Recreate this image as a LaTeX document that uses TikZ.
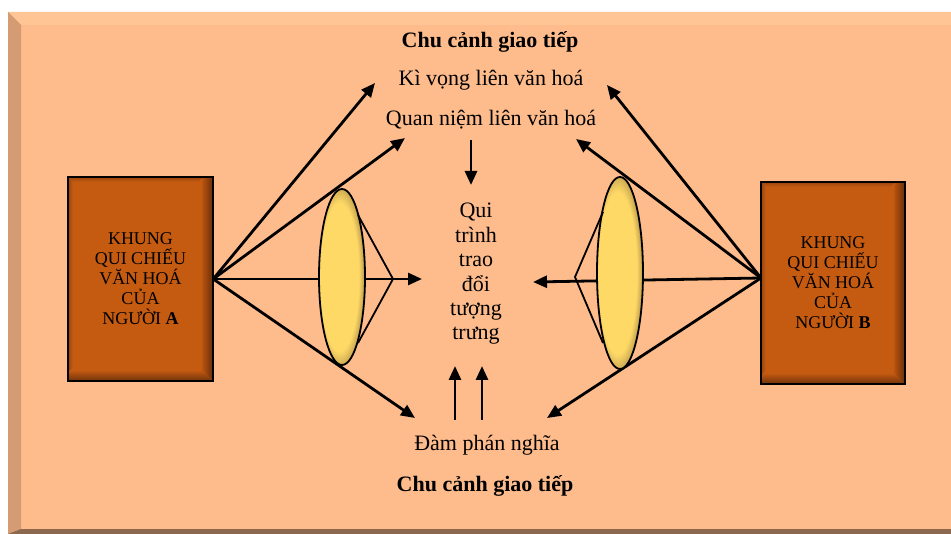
\documentclass[tikz,border=0pt]{standalone}
\usepackage{fontspec}
\setmainfont{Liberation Serif}
\usetikzlibrary{arrows.meta,shapes.geometric}
\definecolor{panel}{RGB}{254,188,140}
\definecolor{panelTop}{RGB}{255,197,149}
\definecolor{panelLeft}{RGB}{213,155,115}
\definecolor{panelBot}{RGB}{139,104,78}
\definecolor{boxC}{RGB}{197,90,17}
\definecolor{boxD}{RGB}{110,50,10}
\definecolor{lensY}{RGB}{255,217,102}
\definecolor{lensD}{RGB}{150,120,62}
\pgfdeclareradialshading{lensshade}{\pgfpoint{-5bp}{0bp}}{color(0bp)=(lensY); color(21bp)=(lensY); color(30bp)=(lensD); color(50bp)=(lensD)}
\tikzset{
  frame/.style={fill=boxC, inner sep=0pt,
    align=center, font=\fontsize{18}{20}\selectfont,
    path picture={
      \foreach \i [evaluate=\i as \j using \i+1, evaluate=\i as \p using int(100-8.5*\i)] in {0,...,10} {
        \fill[boxD!\p!boxC] ([xshift=-\j pt]path picture bounding box.north east) rectangle ([xshift=-\i pt]path picture bounding box.south east);
      }
      \foreach \i [evaluate=\i as \j using \i+1, evaluate=\i as \p using int(90-9*\i)] in {0,...,9} {
        \fill[boxD!\p!boxC] ([yshift=\j pt,xshift=-\i pt]path picture bounding box.south west) rectangle ([yshift=\i pt,xshift=-\i pt]path picture bounding box.south east);
      }
      \foreach \i [evaluate=\i as \j using \i+1, evaluate=\i as \p using int(50-10*\i)] in {0,...,4} {
        \fill[boxD!\p!boxC] ([yshift=-\i pt,xshift=\i pt]path picture bounding box.north west) rectangle ([yshift=-\j pt,xshift=-\i pt-10pt]path picture bounding box.north east);
        \fill[boxD!\p!boxC] ([xshift=\i pt,yshift=-\i pt]path picture bounding box.north west) rectangle ([xshift=\j pt,yshift=\i pt+9pt]path picture bounding box.south west);
      }
    }},
  frameline/.style={draw=black, line width=2.2pt},
  lens/.style={ellipse, draw=black, line width=1.8pt, shading=lensshade, inner sep=0pt},
  midtxt/.style={font=\fontsize{22}{24.4}\selectfont, align=center, inner sep=0pt},
  arr/.style={line width=2.8pt, -{Triangle[length=14pt,width=12pt]}},
  thinl/.style={line width=1.8pt, line join=miter},
}
\begin{document}
\begin{tikzpicture}[x=1pt,y=-1pt]
\useasboundingbox (0,0) rectangle (951,534);
% background panel
\fill[white] (0,0) rectangle (951,534);
\fill[panel] (8,12) rectangle (951,534);
\fill[panelTop] (8,12) -- (951,12) -- (951,25) -- (21,25) -- cycle;
\fill[panelLeft] (8,12) -- (21,25) -- (21,529) -- (8,534) -- cycle;
\fill[panelBot] (8,534) -- (21,529) -- (951,529) -- (951,534) -- cycle;

% frames
\node[frame, minimum width=145pt, minimum height=204pt] (A) at (140.5,279)
  {KHUNG\\QUI CHIẾU\\VĂN HOÁ\\CỦA\\NGƯỜI \textbf{A}};
\draw[frameline] (A.north west) rectangle (A.south east);
\node[frame, minimum width=144pt, minimum height=202pt] (B) at (833,283)
  {KHUNG\\QUI CHIẾU\\VĂN HOÁ\\CỦA\\NGƯỜI \textbf{B}};
\draw[frameline] (B.north west) rectangle (B.south east);

% texts
\node[midtxt] (ctx1) at (490,42) {\textbf{Chu cảnh giao tiếp}};
\node[midtxt] (kv) at (491,80) {Kì vọng liên văn hoá};
\node[midtxt] (qn) at (491,120) {Quan niệm liên văn hoá};
\node[midtxt] (qt) at (476,274) {Qui\\trình\\trao\\đổi\\tượng\\trưng};
\node[midtxt] (dp) at (487,445) {Đàm phán nghĩa};
\node[midtxt] (ctx2) at (485,486) {\textbf{Chu cảnh giao tiếp}};

% connector end points
\coordinate (Ao) at (A.east);
\coordinate (Bo) at (761,278);
\coordinate (kvL) at (375,83);
\coordinate (kvR) at (607,85);
\coordinate (qnL) at (405,138);
\coordinate (qnR) at (576,139);
\coordinate (qtL) at (422,279);
\coordinate (qtR) at (533,282);
\coordinate (dpL) at (415,418);
\coordinate (dpR) at (547,418);
\coordinate (dn1) at (471,140);
\coordinate (dn2) at (471,185);
\coordinate (up1a) at (455,420);
\coordinate (up1b) at (455,366);
\coordinate (up2a) at (482,420);
\coordinate (up2b) at (482,366);

% arrows
\draw[arr] (Ao) -- (kvL);
\draw[arr] (Ao) -- (qnL);
\draw[arr] (Ao) -- (qtL);
\draw[arr] (Ao) -- (dpL);
\draw[arr] (Bo) -- (kvR);
\draw[arr] (Bo) -- (qnR);
\draw[arr] (Bo) -- (qtR);
\draw[arr] (Bo) -- (dpR);
\draw[arr] (dn1) -- (dn2);
\draw[arr] (up1a) -- (up1b);
\draw[arr] (up2a) -- (up2b);

% lenses
\node[lens, minimum width=46pt, minimum height=176pt] (LA) at (342,277) {};
\node[lens, minimum width=46pt, minimum height=192pt] (LB) at (620,273) {};

% lens cones
\coordinate (fa) at (393,279);
\coordinate (fb) at (575,277);
\draw[thinl] (358,215) -- (fa) -- (358,343);
\draw[thinl] (603,212) -- (fb) -- (603,343);
\end{tikzpicture}
\end{document}
